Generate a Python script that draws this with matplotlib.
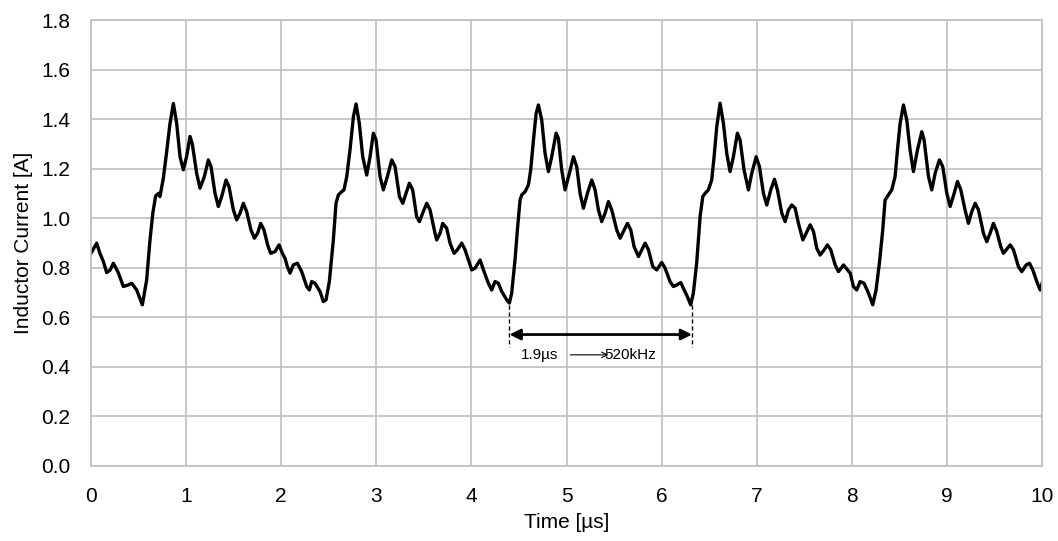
import matplotlib.pyplot as plt

plt.rcParams['font.family'] = ['Liberation Sans', 'DejaVu Sans']

t_c1 = [0.0, 0.06, 0.094, 0.13, 0.165, 0.2, 0.235, 0.287, 0.34, 0.39, 0.428, 0.48, 0.54, 0.585, 0.62,
        0.65, 0.68, 0.71, 0.725, 0.76, 0.79, 0.83, 0.866, 0.901, 0.936, 0.971, 1.006, 1.041, 1.065, 1.111,
        1.146, 1.192, 1.234, 1.262, 1.304, 1.339, 1.374, 1.42, 1.451, 1.497, 1.532, 1.567, 1.602, 1.637,
        1.682, 1.718, 1.752, 1.784, 1.819, 1.857, 1.889, 1.935, 1.977, 2.012, 2.04]
i_c1 = [0.858, 0.899, 0.858, 0.825, 0.78, 0.79, 0.818, 0.78, 0.724, 0.73, 0.737, 0.71, 0.65, 0.75, 0.91,
        1.02, 1.09, 1.10, 1.087, 1.16, 1.25, 1.38, 1.463, 1.383, 1.248, 1.195, 1.25, 1.33, 1.30, 1.181,
        1.121, 1.168, 1.235, 1.208, 1.10, 1.047, 1.087, 1.154, 1.127, 1.033, 0.993, 1.02, 1.06, 1.026,
        0.952, 0.919, 0.939, 0.979, 0.952, 0.892, 0.858, 0.865, 0.892, 0.858, 0.838]

t_c2 = [2.065, 2.093, 2.127, 2.17, 2.215, 2.268, 2.296, 2.32, 2.355, 2.408, 2.443, 2.471, 2.506, 2.548,
        2.576, 2.601, 2.636, 2.66, 2.689, 2.723, 2.759, 2.787, 2.821, 2.857, 2.899, 2.934, 2.969, 2.997,
        3.039, 3.074, 3.116, 3.162, 3.197, 3.243, 3.278, 3.312, 3.347, 3.382, 3.424, 3.453, 3.487, 3.53,
        3.565, 3.617, 3.635, 3.67, 3.698, 3.74, 3.775, 3.817, 3.852, 3.898, 3.933, 3.985]
i_c2 = [0.804, 0.778, 0.811, 0.818, 0.784, 0.724, 0.71, 0.744, 0.737, 0.704, 0.663, 0.67, 0.744, 0.912,
        1.06, 1.094, 1.107, 1.114, 1.168, 1.275, 1.41, 1.461, 1.383, 1.248, 1.174, 1.248, 1.343, 1.316,
        1.168, 1.114, 1.168, 1.235, 1.208, 1.087, 1.06, 1.1, 1.141, 1.114, 1.006, 0.986, 1.02, 1.06,
        1.033, 0.939, 0.912, 0.939, 0.979, 0.959, 0.899, 0.858, 0.872, 0.899, 0.872, 0.811]

t_c3 = [4.003, 4.038, 4.091, 4.126, 4.178, 4.213, 4.248, 4.283, 4.318, 4.371, 4.399, 4.423, 4.458, 4.483,
        4.511, 4.529, 4.564, 4.599, 4.623, 4.652, 4.68, 4.704, 4.739, 4.774, 4.809, 4.844, 4.89, 4.914,
        4.949, 4.984, 5.03, 5.072, 5.107, 5.142, 5.177, 5.219, 5.265, 5.3, 5.335, 5.37, 5.405, 5.44,
        5.475, 5.528, 5.563, 5.605, 5.64, 5.675, 5.71, 5.756, 5.791, 5.826, 5.861, 5.907]
i_c3 = [0.791, 0.798, 0.831, 0.791, 0.737, 0.71, 0.744, 0.737, 0.704, 0.67, 0.657, 0.697, 0.831, 0.952,
        1.073, 1.094, 1.107, 1.134, 1.195, 1.316, 1.423, 1.457, 1.396, 1.262, 1.188, 1.248, 1.343, 1.322,
        1.195, 1.114, 1.181, 1.248, 1.208, 1.1, 1.04, 1.1, 1.154, 1.114, 1.033, 0.986, 1.02, 1.067,
        1.033, 0.952, 0.919, 0.952, 0.979, 0.952, 0.885, 0.845, 0.872, 0.899, 0.872, 0.804]

t_c4 = [5.948, 6.0, 6.036, 6.088, 6.123, 6.158, 6.2, 6.228, 6.27, 6.305, 6.333, 6.368, 6.404, 6.432,
        6.456, 6.491, 6.526, 6.551, 6.579, 6.614, 6.649, 6.684, 6.719, 6.754, 6.796, 6.824, 6.866, 6.912,
        6.947, 6.993, 7.028, 7.07, 7.105, 7.147, 7.186, 7.217, 7.263, 7.298, 7.333, 7.368, 7.403, 7.438,
        7.484, 7.519, 7.561, 7.596, 7.631, 7.666, 7.708, 7.743, 7.778, 7.824, 7.859, 7.911, 7.982]
i_c4 = [0.791, 0.821, 0.798, 0.744, 0.724, 0.73, 0.74, 0.717, 0.683, 0.65, 0.697, 0.818, 1.006, 1.087,
        1.1, 1.114, 1.154, 1.248, 1.369, 1.464, 1.383, 1.262, 1.188, 1.248, 1.343, 1.316, 1.195, 1.114,
        1.181, 1.248, 1.208, 1.1, 1.053, 1.114, 1.157, 1.114, 1.02, 0.986, 1.033, 1.053, 1.04, 0.979,
        0.912, 0.939, 0.973, 0.946, 0.878, 0.851, 0.872, 0.892, 0.872, 0.811, 0.784, 0.811, 0.778]

t_c5 = [8.016, 8.051, 8.086, 8.128, 8.174, 8.219, 8.254, 8.289, 8.324, 8.349, 8.384, 8.419, 8.454, 8.479,
        8.507, 8.542, 8.577, 8.612, 8.647, 8.689, 8.735, 8.759, 8.805, 8.84, 8.875, 8.92, 8.955, 8.998,
        9.033, 9.075, 9.11, 9.145, 9.19, 9.225, 9.26, 9.296, 9.331, 9.383, 9.418, 9.453, 9.488, 9.523,
        9.565, 9.593, 9.635, 9.664, 9.699, 9.751, 9.786, 9.832, 9.867, 9.902, 9.944, 9.979, 10.0]
i_c5 = [0.724, 0.71, 0.744, 0.737, 0.697, 0.65, 0.71, 0.818, 0.952, 1.073, 1.094, 1.114, 1.168, 1.275,
        1.383, 1.457, 1.396, 1.275, 1.188, 1.275, 1.349, 1.316, 1.168, 1.114, 1.181, 1.235, 1.208, 1.1,
        1.047, 1.1, 1.148, 1.114, 1.033, 0.979, 1.026, 1.06, 1.033, 0.939, 0.905, 0.939, 0.979, 0.946,
        0.885, 0.858, 0.878, 0.892, 0.872, 0.804, 0.784, 0.811, 0.818, 0.791, 0.744, 0.71, 0.737]

# period marker (two valleys)
period_start = 4.40
period_end = 6.32
period_label = '1.9µs'
freq_label = '520kHz'

t = t_c1 + t_c2 + t_c3 + t_c4 + t_c5
i_l = i_c1 + i_c2 + i_c3 + i_c4 + i_c5

grid_col = '#bfbfbf'

fig = plt.figure(figsize=(10.58, 5.41), dpi=100)
ax = fig.add_axes([0.086, 0.139, 0.899, 0.824])

ax.plot(t, i_l, color='black', lw=2.4, solid_joinstyle='round')

# period annotation
ax.plot([period_start, period_start], [0.65, 0.48], color='black', ls=(0, (3, 2)), lw=1)
ax.plot([period_end, period_end], [0.65, 0.48], color='black', ls=(0, (3, 2)), lw=1)
ax.annotate('', xy=(period_start, 0.53), xytext=(period_end, 0.53),
            arrowprops=dict(arrowstyle='<|-|>', color='black', lw=2, mutation_scale=16,
                            shrinkA=0, shrinkB=0))
ax.text(4.52, 0.448, period_label, fontsize=11, va='center', ha='left')
ax.annotate('', xy=(5.44, 0.448), xytext=(5.04, 0.448),
            arrowprops=dict(arrowstyle='->', color='black', lw=0.8, shrinkA=0, shrinkB=0))
ax.text(5.40, 0.448, freq_label, fontsize=11, va='center', ha='left')

ax.set_xlim(0, 10)
ax.set_ylim(0, 1.8)
ax.set_xticks(range(0, 11))
ax.set_yticks([k / 10 for k in range(0, 19, 2)])
ax.set_yticklabels([f'{k / 10:.1f}' for k in range(0, 19, 2)])
ax.tick_params(axis='y', length=0, labelsize=15, pad=15)
ax.tick_params(axis='x', length=0, labelsize=15, pad=15)
ax.grid(True, color=grid_col, lw=1.2)
ax.set_axisbelow(True)
for s in ax.spines.values():
    s.set_color(grid_col)
    s.set_linewidth(1.2)

ax.set_xlabel('Time [µs]', fontsize=15, labelpad=5)
ax.set_ylabel('Inductor Current [A]', fontsize=15, labelpad=6)

fig.savefig('out.png', dpi=100)
